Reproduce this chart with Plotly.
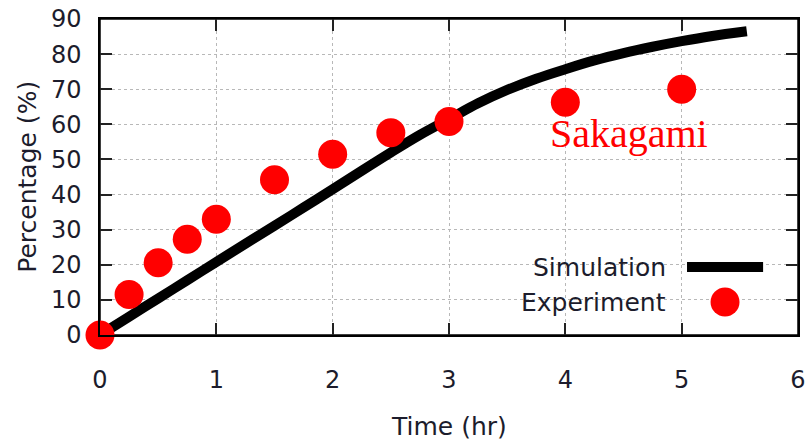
import plotly.graph_objects as go

# Simulation curve
sim_time = [0, 0.25, 0.5, 0.75, 1.0, 1.25, 1.5, 1.75, 2.0, 2.25, 2.5, 2.75, 3.0,
            3.25, 3.5, 3.75, 4.0, 4.25, 4.5, 4.75, 5.0, 5.25, 5.56]
sim_pct = [0, 5.2, 10.4, 15.6, 20.8, 26.0, 31.1, 36.3, 41.5, 46.8, 52.0, 57.0, 61.5,
           66.0, 69.8, 73.0, 75.7, 78.2, 80.3, 82.1, 83.7, 85.1, 86.5]

# Experiment points
exp_time = [0, 0.25, 0.5, 0.75, 1.0, 1.5, 2.0, 2.5, 3.0, 4.0, 5.0]
exp_pct = [0, 11.5, 20.6, 27.3, 33.0, 44.2, 51.5, 57.6, 60.8, 66.3, 70.0]

x_ticks = [0, 1, 2, 3, 4, 5, 6]
y_ticks = [0, 10, 20, 30, 40, 50, 60, 70, 80, 90]

txt = "#1c1c2c"
font = "DejaVu Sans"

fig = go.Figure()
fig.add_trace(go.Scatter(x=sim_time, y=sim_pct, mode='lines', name='Simulation',
                         line=dict(color='black', width=10, shape='spline'), showlegend=False))
fig.add_trace(go.Scatter(x=exp_time, y=exp_pct, mode='markers', name='Experiment',
                         marker=dict(color='#ff0000', size=29), cliponaxis=False,
                         showlegend=False))

# hand-made legend: text on the left, sample on the right (gnuplot style)
fig.add_annotation(xref='paper', yref='paper', x=0.814, y=0.215, xanchor='right', yanchor='middle',
                   text='Simulation', showarrow=False, font=dict(family=font, size=25, color=txt))
fig.add_annotation(xref='paper', yref='paper', x=0.814, y=0.104, xanchor='right', yanchor='middle',
                   text='Experiment', showarrow=False, font=dict(family=font, size=25, color=txt))
fig.add_shape(type='line', xref='paper', yref='paper', x0=0.841, x1=0.950, y0=0.215, y1=0.215,
              line=dict(color='black', width=10))
fig.add_shape(type='circle', xref='paper', yref='paper', x0=0.8747, x1=0.9162, y0=0.0585, y1=0.150,
              fillcolor='#ff0000', line=dict(width=0))

# frame round the plot area
fig.add_shape(type='rect', xref='paper', yref='paper', x0=0, x1=1, y0=0, y1=1,
              line=dict(color='black', width=1.5), layer='below')

fig.add_annotation(x=3.85, y=57.5, xanchor='left', yanchor='middle', text='Sakagami',
                   showarrow=False, font=dict(family='Liberation Serif', size=40, color='#ff0000'))

# axis titles
fig.add_annotation(xref='paper', yref='paper', x=0.5, y=-0.291, xanchor='center', yanchor='middle',
                   text='Time (hr)', showarrow=False, font=dict(family=font, size=25, color=txt))
fig.add_annotation(xref='paper', yref='paper', x=-0.105, y=0.5, xanchor='center', yanchor='middle',
                   text='Percentage (%)', textangle=-90, showarrow=False,
                   font=dict(family=font, size=25, color=txt))

axis_common = dict(showline=True, linecolor='black', linewidth=1.5, mirror='ticks',
                   ticks='inside', ticklen=12, tickwidth=1.5, tickcolor='#222',
                   showgrid=True, gridcolor='#b8b8b8', griddash='dot', gridwidth=1,
                   zeroline=False, automargin=False, ticklabeloverflow='allow',
                   tickfont=dict(family=font, size=24, color=txt))

fig.update_layout(
    width=809, height=441,
    margin=dict(l=100, r=11, t=19, b=106),
    paper_bgcolor='white', plot_bgcolor='white',
    xaxis=dict(range=[0, 6], tickvals=x_ticks, ticklabelstandoff=22, **axis_common),
    yaxis=dict(range=[0, 90], tickvals=y_ticks, ticklabelstandoff=12, **axis_common),
)

# drop the page's default 8px body margin so the figure fills the window
fig.write_html("out.html", config={'displayModeBar': False},
               post_script="document.body.style.margin='0';document.body.style.overflow='hidden';")
